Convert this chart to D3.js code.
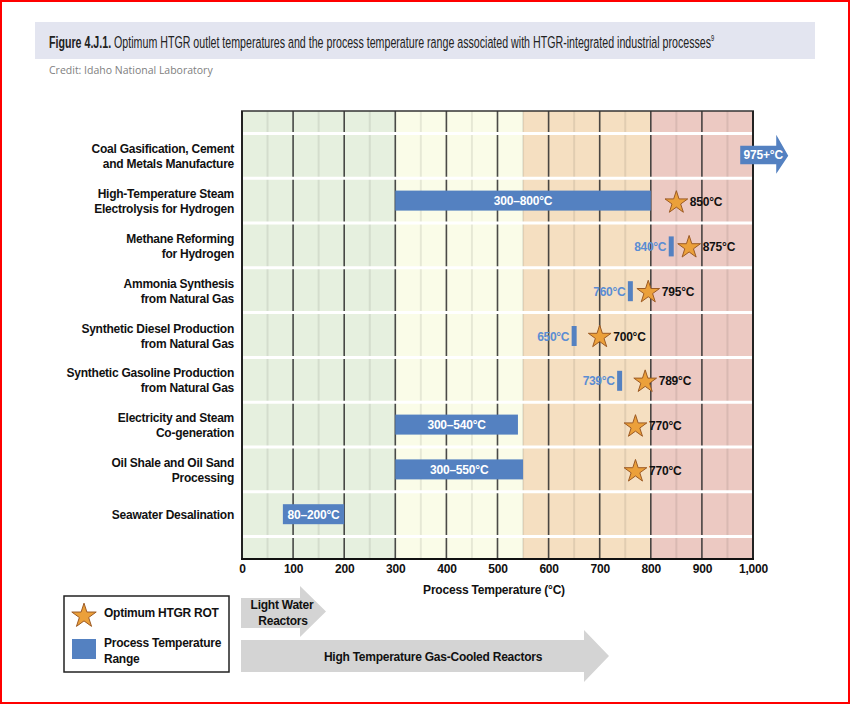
<!DOCTYPE html>
<html>
<head>
<meta charset="utf-8">
<script src="https://cdn.jsdelivr.net/npm/d3@7"></script>
<style>
  html, body { margin: 0; padding: 0; background: #fff; }
  svg { display: block; font-family: "Liberation Sans", Arial, Helvetica, sans-serif; }
</style>
</head>
<body>
<svg id="chart" width="850" height="704"></svg>
<script>
// ---------------- DATA ----------------
const categories = [
  "Coal Gasification, Cement|and Metals Manufacture",
  "High-Temperature Steam|Electrolysis for Hydrogen",
  "Methane Reforming|for Hydrogen",
  "Ammonia Synthesis|from Natural Gas",
  "Synthetic Diesel Production|from Natural Gas",
  "Synthetic Gasoline Production|from Natural Gas",
  "Electricity and Steam|Co-generation",
  "Oil Shale and Oil Sand|Processing",
  "Seawater Desalination"
];
// process temperature range bars (°C)
const rangeStart = [null, 300, null, null, null, null, 300, 300, 80];
const rangeEnd   = [null, 800, null, null, null, null, 540, 550, 200];
// single process temperature markers (°C)
const processPoint = [null, null, 840, 760, 650, 739, null, null, null];
// optimum HTGR reactor outlet temperature (°C); first is "975+"
const optimumROT = [975, 850, 875, 795, 700, 789, 770, 770, null];
const optimumLabel = ["975+°C", "850°C", "875°C", "795°C", "700°C", "789°C", "770°C", "770°C", null];
// background temperature bands
const bandStops  = [0, 300, 550, 800, 1000];
const bandColors = ["#e6f0df", "#fafce8", "#f5dfc1", "#ecc9c2"];
const majorTicks = [0, 100, 200, 300, 400, 500, 600, 700, 800, 900, 1000];
const minorTicks = [50, 150, 250, 350, 450, 550, 650, 750, 850, 950];

// ---------------- SETUP ----------------
const svg = d3.select("#chart");
const BLUE = "#5481c1";
const LBLUE = "#5b8dd3";

svg.append("rect").attr("x", 0).attr("y", 0).attr("width", 850).attr("height", 704).attr("fill", "#fff");
svg.append("rect").attr("x", 1).attr("y", 1).attr("width", 848).attr("height", 702)
  .attr("fill", "none").attr("stroke", "#ff0000").attr("stroke-width", 2);

// title bar
svg.append("rect").attr("x", 35).attr("y", 22).attr("width", 780).attr("height", 37).attr("fill", "#e3e5f0");
{
  const tg = svg.append("g");
  const tt = tg.append("text").attr("x", 0).attr("y", 0).attr("font-size", 16.5).attr("fill", "#222");
  tt.append("tspan").attr("font-weight", "bold").text("Figure 4.J.1. ");
  tt.append("tspan").text("Optimum HTGR outlet temperatures and the process temperature range associated with HTGR-integrated industrial processes");
  tt.append("tspan").attr("font-size", 9).attr("dy", -7).text("9");
  const w = tt.node().getComputedTextLength();
  const sx = 666 / w;
  tg.attr("transform", `translate(49,47.5) scale(${sx},1)`);
}
svg.append("text").attr("x", 49).attr("y", 73.5).attr("font-size", 10.5).attr("fill", "#808080")
  .attr("font-family", "'Open Sans', sans-serif").text("Credit: Idaho National Laboratory");

// scales
const x = d3.scaleLinear().domain([0, 1000]).range([242, 753]);
const y = d3.scalePoint().domain(categories).range([111, 559]).padding(1);
const step = y.step();

const plot = svg.append("g");

// bands
plot.selectAll("rect.band").data(bandColors).join("rect").attr("class", "band")
  .attr("x", (d, i) => x(bandStops[i])).attr("width", (d, i) => x(bandStops[i + 1]) - x(bandStops[i]))
  .attr("y", 111).attr("height", 448).attr("fill", d => d);

// minor grid
plot.selectAll("line.minor").data(minorTicks).join("line").attr("class", "minor")
  .attr("x1", d => x(d)).attr("x2", d => x(d)).attr("y1", 111).attr("y2", 559)
  .attr("stroke", "#000").attr("stroke-opacity", 0.08).attr("stroke-width", 2);

// major grid
plot.selectAll("line.major").data(majorTicks.slice(1, -1)).join("line").attr("class", "major")
  .attr("x1", d => x(d)).attr("x2", d => x(d)).attr("y1", 111).attr("y2", 559)
  .attr("stroke", "#2a2a2a").attr("stroke-opacity", 0.85).attr("stroke-width", 1.6);

// white row separators
const sepY = categories.map(c => y(c) - step / 2).concat([y(categories[categories.length - 1]) + step / 2]);
plot.selectAll("line.sep").data(sepY).join("line").attr("class", "sep")
  .attr("x1", x(0) + 1).attr("x2", x(1000) - 1).attr("y1", d => d).attr("y2", d => d)
  .attr("stroke", "#fff").attr("stroke-width", 3);

// frame
plot.append("line").attr("x1", x(0) - 1).attr("x2", x(1000) + 1).attr("y1", 111).attr("y2", 111)
  .attr("stroke", "#333").attr("stroke-width", 1.6);
[0, 1000].forEach(v => plot.append("line").attr("x1", x(v)).attr("x2", x(v)).attr("y1", 111).attr("y2", 559)
  .attr("stroke", "#222").attr("stroke-width", 2));

// x axis
const xAxis = d3.axisBottom(x).tickValues(majorTicks).tickFormat(d3.format(","))
  .tickSize(0).tickSizeOuter(0).tickPadding(5.5);
const gx = svg.append("g").attr("transform", "translate(0,559)").call(xAxis);
gx.select(".domain").attr("stroke", "#111").attr("stroke-width", 2.2).attr("d", `M${x(0) - 1},0H${x(1000) + 1}`);
gx.selectAll("text").attr("font-size", 12).attr("font-weight", "bold").attr("fill", "#111")
  .attr("font-family", "'Liberation Sans', Arial, sans-serif").attr("letter-spacing", "-0.2px");
svg.append("text").attr("x", 494).attr("y", 594).attr("text-anchor", "middle")
  .attr("font-size", 12).attr("font-weight", "bold").attr("fill", "#111").attr("letter-spacing", "-0.2px")
  .text("Process Temperature (°C)");

// y labels
const ylab = svg.append("g");
categories.forEach(c => {
  const lines = c.split("|");
  const cy = y(c);
  const t = ylab.append("text").attr("text-anchor", "end").attr("font-size", 12).attr("font-weight", "bold")
    .attr("fill", "#111").attr("letter-spacing", "-0.25px");
  if (lines.length === 1) {
    t.append("tspan").attr("x", 234).attr("y", cy + 4.5).text(lines[0]);
  } else {
    t.append("tspan").attr("x", 234).attr("y", cy - 2.5).text(lines[0]);
    t.append("tspan").attr("x", 234).attr("y", cy + 12.5).text(lines[1]);
  }
});

// range bars
const rangeIdx = categories.map((c, i) => i).filter(i => rangeStart[i] != null);
plot.selectAll("rect.range").data(rangeIdx).join("rect").attr("class", "range")
  .attr("x", i => x(rangeStart[i])).attr("width", i => x(rangeEnd[i]) - x(rangeStart[i]))
  .attr("y", i => y(categories[i]) - 10).attr("height", 20).attr("fill", BLUE);
plot.selectAll("text.range").data(rangeIdx).join("text").attr("class", "range")
  .attr("x", i => (x(rangeStart[i]) + x(rangeEnd[i])) / 2).attr("y", i => y(categories[i]) + 4.5)
  .attr("text-anchor", "middle").attr("font-size", 12).attr("font-weight", "bold").attr("fill", "#fff")
  .attr("letter-spacing", "-0.2px")
  .text(i => `${rangeStart[i]}–${rangeEnd[i]}°C`);

// point markers
const ptIdx = categories.map((c, i) => i).filter(i => processPoint[i] != null);
plot.selectAll("rect.pt").data(ptIdx).join("rect").attr("class", "pt")
  .attr("x", i => x(processPoint[i]) - 2.5).attr("width", 5)
  .attr("y", i => y(categories[i]) - 9).attr("height", 20).attr("fill", BLUE);
plot.selectAll("text.pt").data(ptIdx).join("text").attr("class", "pt")
  .attr("x", i => x(processPoint[i]) - 5).attr("y", i => y(categories[i]) + 5.5)
  .attr("text-anchor", "end").attr("font-size", 12).attr("font-weight", "bold").attr("fill", LBLUE)
  .attr("letter-spacing", "-0.3px")
  .text(i => `${processPoint[i]}°C`);

// 975+ arrow (first row)
{
  const cy = y(categories[0]);
  const x0 = x(optimumROT[0]);
  const p = d3.path();
  p.moveTo(x0, cy - 10); p.lineTo(x0 + 36, cy - 10); p.lineTo(x0 + 36, cy - 21);
  p.lineTo(x0 + 48, cy); p.lineTo(x0 + 36, cy + 18); p.lineTo(x0 + 36, cy + 8.5);
  p.lineTo(x0, cy + 8.5); p.closePath();
  svg.append("path").attr("d", p.toString()).attr("fill", BLUE);
  svg.append("text").attr("x", x0 + 23).attr("y", cy + 3.5).attr("text-anchor", "middle")
    .attr("font-size", 12).attr("font-weight", "bold").attr("fill", "#fff").attr("letter-spacing", "-0.2px")
    .text(optimumLabel[0]);
}

// stars
const starPath = d3.symbol(d3.symbolStar, 160)();
const starIdx = categories.map((c, i) => i).filter(i => i > 0 && optimumROT[i] != null);
plot.selectAll("path.star").data(starIdx).join("path").attr("class", "star")
  .attr("d", starPath)
  .attr("transform", i => `translate(${x(optimumROT[i])},${y(categories[i]) + 2})`)
  .attr("fill", "#eba03a").attr("stroke", "#9c5a24").attr("stroke-width", 1);
plot.selectAll("text.star").data(starIdx).join("text").attr("class", "star")
  .attr("x", i => x(optimumROT[i]) + 13.5).attr("y", i => y(categories[i]) + 5.5)
  .attr("font-size", 12).attr("font-weight", "bold").attr("fill", "#111").attr("letter-spacing", "-0.2px")
  .text(i => optimumLabel[i]);

// legend
const lg = svg.append("g");
lg.append("rect").attr("x", 64).attr("y", 596).attr("width", 165).attr("height", 76)
  .attr("fill", "#fff").attr("stroke", "#222").attr("stroke-width", 1.5);
lg.append("path").attr("d", d3.symbol(d3.symbolStar, 185)()).attr("transform", "translate(84,616)")
  .attr("fill", "#eba03a").attr("stroke", "#9c5a24").attr("stroke-width", 1);
lg.append("text").attr("x", 104).attr("y", 616.5).attr("font-size", 12).attr("font-weight", "bold")
  .attr("fill", "#111").attr("letter-spacing", "-0.25px").text("Optimum HTGR ROT");
lg.append("rect").attr("x", 72).attr("y", 639).attr("width", 24).attr("height", 20).attr("fill", BLUE);
lg.append("text").attr("x", 104).attr("y", 647).attr("font-size", 12).attr("font-weight", "bold")
  .attr("fill", "#111").attr("letter-spacing", "-0.25px").text("Process Temperature");
lg.append("text").attr("x", 104).attr("y", 663).attr("font-size", 12).attr("font-weight", "bold")
  .attr("fill", "#111").attr("letter-spacing", "-0.25px").text("Range");

// reactor arrows
function arrow(x0, x1, tip, yTop, yBot, headTop, headBot) {
  const cy = (headTop + headBot) / 2;
  const p = d3.path();
  p.moveTo(x0, yTop); p.lineTo(x1, yTop); p.lineTo(x1, headTop); p.lineTo(tip, cy);
  p.lineTo(x1, headBot); p.lineTo(x1, yBot); p.lineTo(x0, yBot); p.closePath();
  return p.toString();
}
svg.append("path").attr("d", arrow(241, 300, 326, 598, 628, 586, 637)).attr("fill", "#d4d4d4");
svg.append("text").attr("x", 282).attr("y", 609).attr("text-anchor", "middle").attr("font-size", 12)
  .attr("font-weight", "bold").attr("fill", "#111").attr("letter-spacing", "-0.25px").text("Light Water");
svg.append("text").attr("x", 283).attr("y", 625).attr("text-anchor", "middle").attr("font-size", 12)
  .attr("font-weight", "bold").attr("fill", "#111").attr("letter-spacing", "-0.25px").text("Reactors");
svg.append("path").attr("d", arrow(241, 584, 609, 640, 672, 630, 682)).attr("fill", "#d4d4d4");
svg.append("text").attr("x", 433).attr("y", 661).attr("text-anchor", "middle").attr("font-size", 12)
  .attr("font-weight", "bold").attr("fill", "#111").attr("letter-spacing", "-0.25px")
  .text("High Temperature Gas-Cooled Reactors");
</script>
</body>
</html>
